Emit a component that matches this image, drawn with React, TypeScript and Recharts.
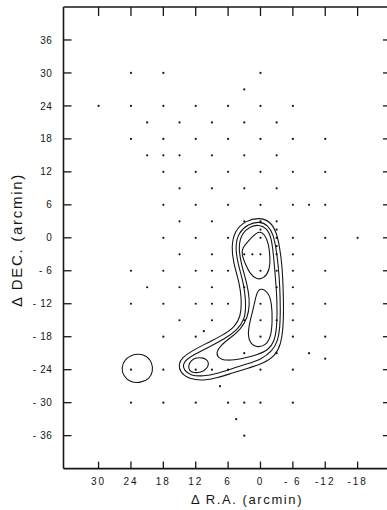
import { ScatterChart, Scatter, XAxis, YAxis } from "recharts"

const INK = "#161616"
const FONT = "'Liberation Sans', Arial, sans-serif"

const X_TICKS = [30, 24, 18, 12, 6, 0, -6, -12, -18]
const Y_TICKS = [36, 30, 24, 18, 12, 6, 0, -6, -12, -18, -24, -30, -36]

// observed positions, one row per dec offset (arcmin)
const ROW_DEC = [30, 27, 24, 21, 18, 15, 12, 9, 6, 3, 1.5, 0, -1.5, -3, -6, -9, -12, -15, -17, -18, -21, -22, -24, -27, -30, -33, -36]
const ROW_RA = [
  [24, 18, 0],
  [3],
  [30, 24, 18, 12, 6, 0, -6],
  [21, 15, 9, 3, -3],
  [24, 18, 12, 6, 0, -6, -12],
  [21, 18, 15, 9, 3, -3],
  [18, 12, 6, 0, -6, -12],
  [15, 9, 3, -3],
  [18, 12, 6, 0, -6, -9, -12],
  [15, 9, 3, 0, -3],
  [0, -3],
  [18, 12, 6, 0, -3, -6, -12, -18],
  [-3],
  [15, 9, 3, 1.5, 0, -3, -6],
  [24, 18, 12, 9, 6, 0, -3, -6, -12],
  [21, 15, 9, 3, -3, -6],
  [24, 18, 12, 9, 6, 0, -6, -12],
  [15, 9, 3, 0, -3, -6],
  [10.5],
  [18, 12, 0, -6, -12],
  [3, -3, -9],
  [-12],
  [24, 18, 12, 9, 6, 0, -6],
  [7.5],
  [24, 18, 12, 6, 3, 0, -6],
  [4.5],
  [3],
]

// contour levels, [ra, dec]
const OUTER = [[0.2, 3.7], [-1.8, 3], [-3, 1], [-3.6, -2], [-4, -5], [-4.2, -9], [-4.3, -13], [-4.2, -16.5], [-3.8, -19.3], [-2.8, -21.4], [-0.5, -22.9], [2.5, -23.8], [5.2, -24.6], [8, -25.5], [10.6, -26], [13.2, -25.7], [14.9, -24.5], [15.2, -23], [14.5, -21.8], [12.9, -20.7], [10.4, -19.4], [7.1, -17.8], [4.7, -16.2], [3.7, -14.3], [3.5, -12], [3.7, -9.5], [4.2, -7.2], [5, -4.6], [5.4, -1.6], [4.8, 1.3], [2.8, 3.1]]
const SECOND = [[0.2, 3.0], [-1.4, 2.3], [-2.4, 0.6], [-2.9, -2], [-3.3, -5], [-3.6, -9], [-3.7, -13], [-3.6, -16.5], [-3.2, -18.8], [-2.2, -20.6], [-0.2, -22.1], [2.6, -23], [5.3, -23.8], [8, -24.7], [10.6, -25.2], [12.9, -25.1], [14.2, -24.1], [14.4, -23], [13.7, -22.1], [12.2, -21.2], [9.8, -20], [6.8, -18.5], [4.3, -16.8], [2.9, -14.8], [2.7, -12.3], [2.9, -9.8], [3.4, -7.3], [4.2, -4.6], [4.7, -1.6], [4.1, 0.9], [2.3, 2.5]]
const THIRD = [[0.3, 2.4], [-1.1, 1.8], [-2, 0.2], [-2.4, -3], [-2.7, -6.5], [-3, -10], [-3.1, -13.5], [-3, -16.5], [-2.6, -18.8], [-1.5, -20.4], [0.6, -21.3], [3.4, -22], [6.3, -22.4], [7.9, -21.9], [8.2, -20.8], [7.4, -19.6], [5.6, -18.2], [3.7, -16.7], [2.4, -14.6], [2, -12.2], [2.2, -9.8], [2.8, -7.3], [3.6, -4.6], [4.1, -1.6], [3.5, 0.8], [1.9, 2.1]]
const PEAK = [[0.3, 1.4], [-0.8, 0.6], [-1.5, -1], [-1.8, -3.5], [-1.7, -6], [-0.6, -7.4], [0.7, -7.6], [1.9, -6.6], [2.8, -4.8], [3.5, -3], [3.4, -1.9], [2.2, -0.5]]
const MIDDLE = [[0.1, -9], [-1.5, -9.9], [-2.1, -12], [-2.2, -15], [-2, -17.8], [-1.1, -19.5], [0.5, -20], [1.9, -19.3], [2.4, -17.5], [1.9, -15], [1.2, -12.4], [0.8, -10.3]]
const KNOT = [[9.7, -22.4], [10.5, -21.8], [11.9, -21.8], [12.9, -22.3], [13.4, -23.3], [13.2, -24.2], [12.4, -24.6], [11, -24.5], [10, -23.9], [9.6, -23.1]]
const ISLAND = [[22.5, -21.1], [21, -21.5], [20.1, -22.7], [19.9, -24.3], [20.6, -25.7], [22.2, -26.4], [24.1, -26.3], [25.4, -25.2], [25.8, -23.6], [25.1, -22.1], [23.9, -21.3]]

const dots = ROW_DEC.flatMap((dec, i) => ROW_RA[i].map((ra) => ({ x: ra, y: dec })))
const contours = [OUTER, SECOND, THIRD, PEAK, MIDDLE, KNOT, ISLAND].map((c) =>
  c.map(([x, y]) => ({ x, y })),
)

const fmtX = (v: number) => (v === -6 ? "- 6" : String(v))
const fmtY = (v: number) => (v < 0 ? "- " + Math.abs(v) : String(v))

function BottomTick({ x, y, payload }: any) {
  return (
    <g>
      <line x1={x} x2={x} y1={y} y2={y - 7} stroke={INK} strokeWidth={1.3} />
      <text x={x} y={y + 16} textAnchor="middle" fontSize={10} letterSpacing={2} fontFamily={FONT} fill={INK}>
        {fmtX(payload.value)}
      </text>
    </g>
  )
}

function TopTick({ x, y }: any) {
  return <line x1={x} x2={x} y1={y} y2={y + 9} stroke={INK} strokeWidth={1.3} />
}

function LeftTick({ x, y, payload }: any) {
  return (
    <g>
      <line x1={x} x2={x + 8} y1={y} y2={y} stroke={INK} strokeWidth={1.3} />
      <text x={x - 11} y={y + 3.6} textAnchor="end" fontSize={10} letterSpacing={0.6} fontFamily={FONT} fill={INK}>
        {fmtY(payload.value)}
      </text>
    </g>
  )
}

function RightTick({ x, y }: any) {
  return <line x1={x} x2={x - 7} y1={y} y2={y} stroke={INK} strokeWidth={1.3} />
}

const Dot = ({ cx, cy }: any) => <circle cx={cx} cy={cy} r={1.1} fill={INK} />
const NoShape = () => <g />

export default function App() {
  const axisLine = { stroke: INK, strokeWidth: 1.6 }
  return (
    <div style={{ position: "absolute", left: 0, top: 0, width: 387, height: 510, overflow: "hidden", background: "#fff" }}>
      <ScatterChart width={400} height={510} margin={{ top: 2, right: 0, bottom: 1.4, left: 13.5 }}>
        <XAxis xAxisId="b" type="number" dataKey="x" domain={[-24, 36.5]} reversed allowDataOverflow
          ticks={X_TICKS} interval={0} tickLine={false} tickSize={0} tickMargin={0}
          tick={BottomTick} axisLine={axisLine} height={40} />
        <XAxis xAxisId="t" orientation="top" type="number" dataKey="x" domain={[-24, 36.5]} reversed allowDataOverflow
          ticks={X_TICKS} interval={0} tickLine={false} tickSize={0} tickMargin={0}
          tick={TopTick} axisLine={axisLine} height={5} />
        <YAxis yAxisId="l" type="number" dataKey="y" domain={[-42, 42]} allowDataOverflow
          ticks={Y_TICKS} interval={0} tickLine={false} tickSize={0} tickMargin={0}
          tick={LeftTick} axisLine={axisLine} width={50} />
        <YAxis yAxisId="r" orientation="right" type="number" dataKey="y" domain={[-42, 42]} allowDataOverflow
          ticks={Y_TICKS} interval={0} tickLine={false} tickSize={0} tickMargin={0}
          tick={RightTick} axisLine={axisLine} width={10} />
        <Scatter xAxisId="b" yAxisId="l" data={dots} shape={Dot} isAnimationActive={false} />
        {contours.map((c, i) => (
          <Scatter key={i} xAxisId="t" yAxisId="r" data={c} fill="none"
            line={{ stroke: INK, strokeWidth: 1.1 }} lineType="joint" lineJointType="basisClosed"
            shape={NoShape} isAnimationActive={false} />
        ))}
      </ScatterChart>
      <svg width={387} height={510} style={{ position: "absolute", left: 0, top: 0, pointerEvents: "none" }}>
        <text x={247} y={504} textAnchor="middle" fontSize={13} letterSpacing={1.6} fontFamily={FONT} fill={INK}>
          Δ R.A. (arcmin)
        </text>
        <text transform="translate(22,240) rotate(-90)" textAnchor="middle" fontSize={15} letterSpacing={1.7} fontFamily={FONT} fill={INK}>
          Δ DEC. (arcmin)
        </text>
      </svg>
    </div>
  )
}
